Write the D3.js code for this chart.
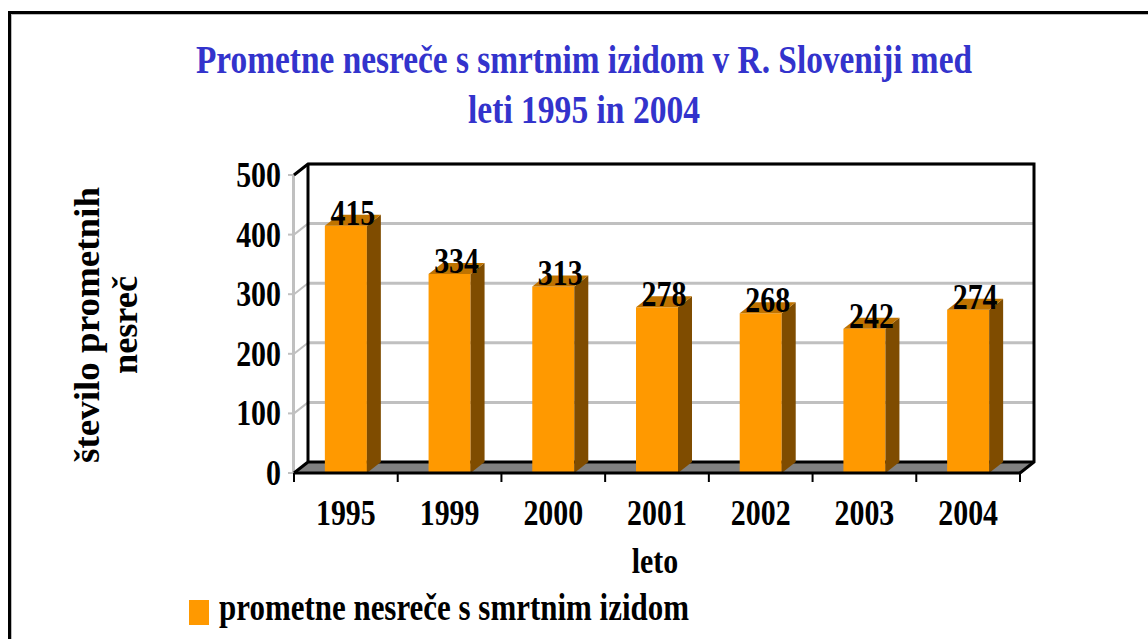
<!DOCTYPE html>
<html>
<head>
<meta charset="utf-8">
<script src="https://cdn.jsdelivr.net/npm/d3@7"></script>
<style>
  html, body { margin: 0; padding: 0; background: #fff; }
  svg { display: block; }
  text { font-family: "Liberation Serif", "Times New Roman", serif; font-weight: bold; }
</style>
</head>
<body>
<div class="chart"></div>
<script>
// data
const years = ["1995", "1999", "2000", "2001", "2002", "2003", "2004"];
const accidents = [415, 334, 313, 278, 268, 242, 274];
const yTicks = [0, 100, 200, 300, 400, 500];
const titleLines = ["Prometne nesreče s smrtnim izidom v R. Sloveniji med", "leti 1995 in 2004"];
const yTitleLines = ["število prometnih", "nesreč"];
const xTitle = "leto";
const seriesName = "prometne nesreče s smrtnim izidom";

const W = 1148, H = 639;
const dx = 14, dy = -11;       // depth offset of the 3d box
const sx = 0.83;               // narrow glyphs like the reference

const svg = d3.select(".chart").append("svg")
    .attr("width", W)
    .attr("height", H);

const x = d3.scaleBand().domain(years).range([294, 1020]);
const y = d3.scaleLinear().domain([0, 500]).range([473, 175]);
const barW = x.bandwidth() * 0.405;

function label(g, px, py, str, size, anchor) {
    return g.append("text")
        .attr("transform", `translate(${px},${py}) scale(${sx},1)`)
        .attr("text-anchor", anchor || "middle")
        .attr("font-size", size)
        .attr("fill", "#000")
        .text(str);
}

// frame around the chart
svg.append("line").attr("x1", 11.5).attr("x2", 11.5).attr("y1", 14).attr("y2", H)
    .attr("stroke", "#bbb").attr("stroke-width", 1);
svg.append("line").attr("x1", 11).attr("x2", W).attr("y1", 14.5).attr("y2", 14.5)
    .attr("stroke", "#bbb").attr("stroke-width", 1);
svg.append("path").attr("d", `M9.5,${H} V12.5 H${W}`)
    .attr("fill", "none").attr("stroke", "#000").attr("stroke-width", 3);

// title
svg.selectAll("text.title")
    .data(titleLines)
    .enter().append("text")
    .attr("class", "title")
    .attr("x", 584)
    .attr("y", (d, i) => 73 + i * 50)
    .attr("text-anchor", "middle")
    .attr("font-size", 40)
    .attr("fill", "#3333CC")
    .attr("textLength", (d, i) => i === 0 ? 776 : 232)
    .attr("lengthAdjust", "spacingAndGlyphs")
    .text(d => d);

const x0 = x.range()[0], x1 = x.range()[1];

// back wall gridlines
svg.selectAll("line.grid")
    .data(yTicks.slice(1))
    .enter().append("line")
    .attr("class", "grid")
    .attr("x1", x0 + dx).attr("x2", x1 + dx)
    .attr("y1", d => y(d) + dy).attr("y2", d => y(d) + dy)
    .attr("stroke", "#c0c0c0").attr("stroke-width", 3);

// left wall gridlines
svg.selectAll("line.lgrid")
    .data(yTicks.slice(1, -1))
    .enter().append("line")
    .attr("class", "lgrid")
    .attr("x1", x0).attr("x2", x0 + dx)
    .attr("y1", d => y(d)).attr("y2", d => y(d) + dy)
    .attr("stroke", "#c0c0c0").attr("stroke-width", 2);

// front value axis (grey)
svg.append("line").attr("x1", x0 - 0.5).attr("x2", x0 - 0.5)
    .attr("y1", y(500)).attr("y2", y(0))
    .attr("stroke", "#c0c0c0").attr("stroke-width", 3);
svg.selectAll("line.ytick")
    .data(yTicks)
    .enter().append("line")
    .attr("class", "ytick")
    .attr("x1", x0 - 6).attr("x2", x0)
    .attr("y1", d => y(d)).attr("y2", d => y(d))
    .attr("stroke", "#c0c0c0").attr("stroke-width", 2);

// floor
svg.append("polygon")
    .attr("points", `${x0},${y(0)} ${x0 + dx},${y(0) + dy} ${x1 + dx},${y(0) + dy} ${x1},${y(0)}`)
    .attr("fill", "#808080");

// wall frame
svg.append("path")
    .attr("d", `M${x0},${y(500)} L${x0 + dx},${y(500) + dy} H${x1 + dx} V${y(0) + dy} L${x1},${y(0)}`)
    .attr("fill", "none").attr("stroke", "#000").attr("stroke-width", 3);
svg.append("path")
    .attr("d", `M${x0 + dx},${y(500) + dy} V${y(0) + dy} H${x1 + dx} M${x0},${y(0)} L${x0 + dx},${y(0) + dy}`)
    .attr("fill", "none").attr("stroke", "#000").attr("stroke-width", 3);

// bars
const bars = svg.selectAll("g.bar")
    .data(years.map((d, i) => ({ year: d, value: accidents[i] })))
    .enter().append("g")
    .attr("class", "bar");

bars.append("rect")
    .attr("x", d => x(d.year) + (x.bandwidth() - barW) / 2)
    .attr("y", d => y(d.value))
    .attr("width", barW)
    .attr("height", d => y(0) - y(d.value))
    .attr("fill", "#FF9900");

bars.append("polygon")
    .attr("points", d => {
        const r = x(d.year) + (x.bandwidth() + barW) / 2;
        return `${r},${y(d.value)} ${r + dx},${y(d.value) + dy} ${r + dx},${y(0) + dy} ${r},${y(0)}`;
    })
    .attr("fill", "#7F4C00");

bars.append("polygon")
    .attr("points", d => {
        const l = x(d.year) + (x.bandwidth() - barW) / 2;
        const r = l + barW;
        return `${l},${y(d.value)} ${l + dx},${y(d.value) + dy} ${r + dx},${y(d.value) + dy} ${r},${y(d.value)}`;
    })
    .attr("fill", "#BF7300");

// front floor edge and category ticks
svg.append("line").attr("x1", x0).attr("x2", x1)
    .attr("y1", y(0)).attr("y2", y(0))
    .attr("stroke", "#000").attr("stroke-width", 3);
svg.selectAll("line.xtick")
    .data(years.map(d => x(d)).concat([x1]))
    .enter().append("line")
    .attr("class", "xtick")
    .attr("x1", d => d).attr("x2", d => d)
    .attr("y1", y(0)).attr("y2", y(0) + 9)
    .attr("stroke", "#000").attr("stroke-width", 2);

// value labels
bars.each(function(d) {
    label(d3.select(this), x(d.year) + x.bandwidth() / 2 + 7, y(d.value) - 1, d.value, 36);
});

// y tick labels
yTicks.forEach(t => label(svg, 281, y(t) + 12, t, 36, "end"));

// category labels
years.forEach(yr => label(svg, x(yr) + x.bandwidth() / 2, 525, yr, 36));

// axis titles
label(svg, 655, 573, xTitle, 36);

svg.selectAll("text.ytitle")
    .data(yTitleLines)
    .enter().append("text")
    .attr("class", "ytitle")
    .attr("transform", (d, i) => `translate(${99 + i * 38},325) rotate(-90)`)
    .attr("text-anchor", "middle")
    .attr("font-size", 36)
    .attr("textLength", (d, i) => i === 0 ? 276 : 98)
    .attr("lengthAdjust", "spacingAndGlyphs")
    .text(d => d);

// legend
svg.append("rect")
    .attr("x", 189).attr("y", 600)
    .attr("width", 20).attr("height", 25)
    .attr("fill", "#FF9900");
svg.append("text")
    .attr("x", 219).attr("y", 620)
    .attr("font-size", 38)
    .attr("textLength", 470)
    .attr("lengthAdjust", "spacingAndGlyphs")
    .text(seriesName);
</script>
</body>
</html>
